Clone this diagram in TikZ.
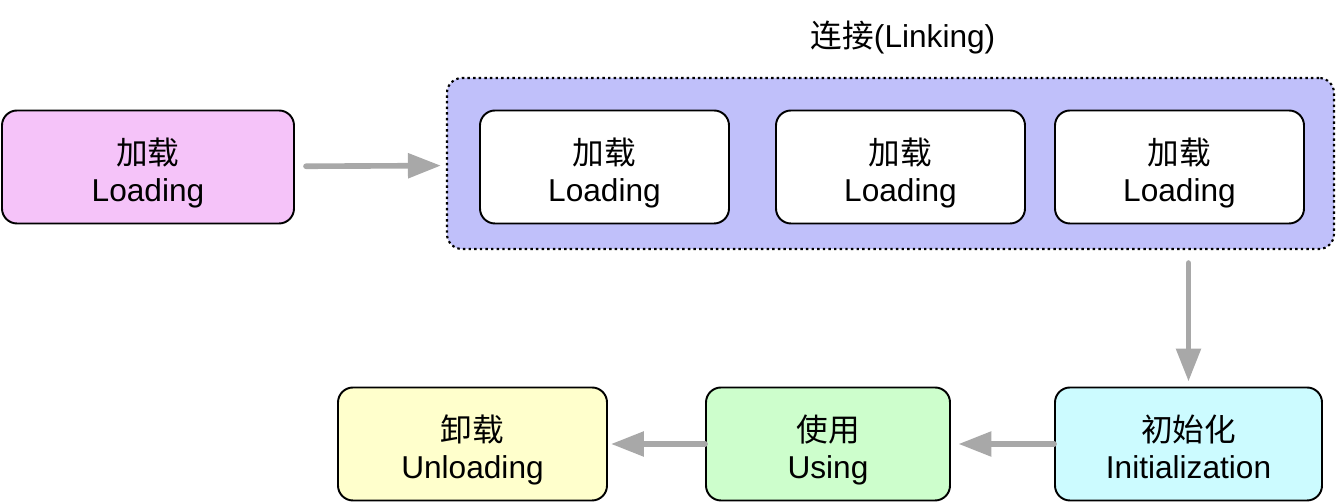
\documentclass[tikz,border=0pt]{standalone}
\usepackage{fontspec}
\setmainfont{Liberation Sans}
\newfontfamily\cjk{Noto Sans CJK SC}
\usepackage{tikz}
\usetikzlibrary{arrows.meta}
\definecolor{loadpink}{HTML}{F5C3F9}
\definecolor{linkblue}{HTML}{C0C0FA}
\definecolor{initcyan}{HTML}{CCFBFF}
\definecolor{usegreen}{HTML}{CDFECC}
\definecolor{unloadyellow}{HTML}{FFFFCC}
\definecolor{arrowgray}{HTML}{A8A8A8}
\newcommand{\stagetext}[2]{\rule{0pt}{23.3pt}{\cjk #1}\\#2\rule[-5pt]{0pt}{0pt}}

\begin{document}
\begin{tikzpicture}[
  box/.style={draw=black,line width=1.1pt,rounded corners=0.3cm,align=center,
    minimum height=2.26cm,font=\fontsize{18}{21.5}\selectfont},
  group/.style={draw=black,fill=linkblue,line width=1.2pt,rounded corners=0.3cm,
    dash pattern=on 1.4pt off 1.8pt},
  flow/.style={draw=arrowgray,line width=3.2pt,line cap=round,
    -{Triangle[length=0.66cm,width=0.48cm]}}
]
\useasboundingbox (0,0) rectangle (26.72,10.08);
%%Linking group
\node[group,minimum width=17.74cm,minimum height=3.42cm] (linking) at (17.81,6.81) {};
\node[font=\fontsize{18}{22}\selectfont] (linkingtitle) at (18.06,9.32) {{\cjk 连接}(Linking)};
%%Stages
\node[box,fill=loadpink,minimum width=5.84cm] (loading) at (2.96,6.74) {\stagetext{加载}{Loading}};
\node[box,fill=white,minimum width=4.98cm] (verify) at (12.09,6.74) {\stagetext{加载}{Loading}};
\node[box,fill=white,minimum width=4.98cm] (prepare) at (18.01,6.74) {\stagetext{加载}{Loading}};
\node[box,fill=white,minimum width=4.98cm] (resolve) at (23.59,6.74) {\stagetext{加载}{Loading}};
\node[box,fill=initcyan,minimum width=5.34cm] (init) at (23.77,1.2) {\stagetext{初始化}{Initialization}};
\node[box,fill=usegreen,minimum width=4.88cm] (using) at (16.56,1.2) {\stagetext{使用}{Using}};
\node[box,fill=unloadyellow,minimum width=5.38cm] (unloading) at (9.45,1.2) {\stagetext{卸载}{Unloading}};
%%Arrows
\draw[flow,shorten <=0.22cm,shorten >=0.1cm] (loading) -- (linking);
\draw[flow,shorten <=0.26cm,shorten >=0.1cm] (init.north |- linking.south) -- (init.north);
\draw[flow,shorten >=0.15cm] (init) -- (using);
\draw[flow,shorten >=0.06cm] (using) -- (unloading);
\end{tikzpicture}
\end{document}
